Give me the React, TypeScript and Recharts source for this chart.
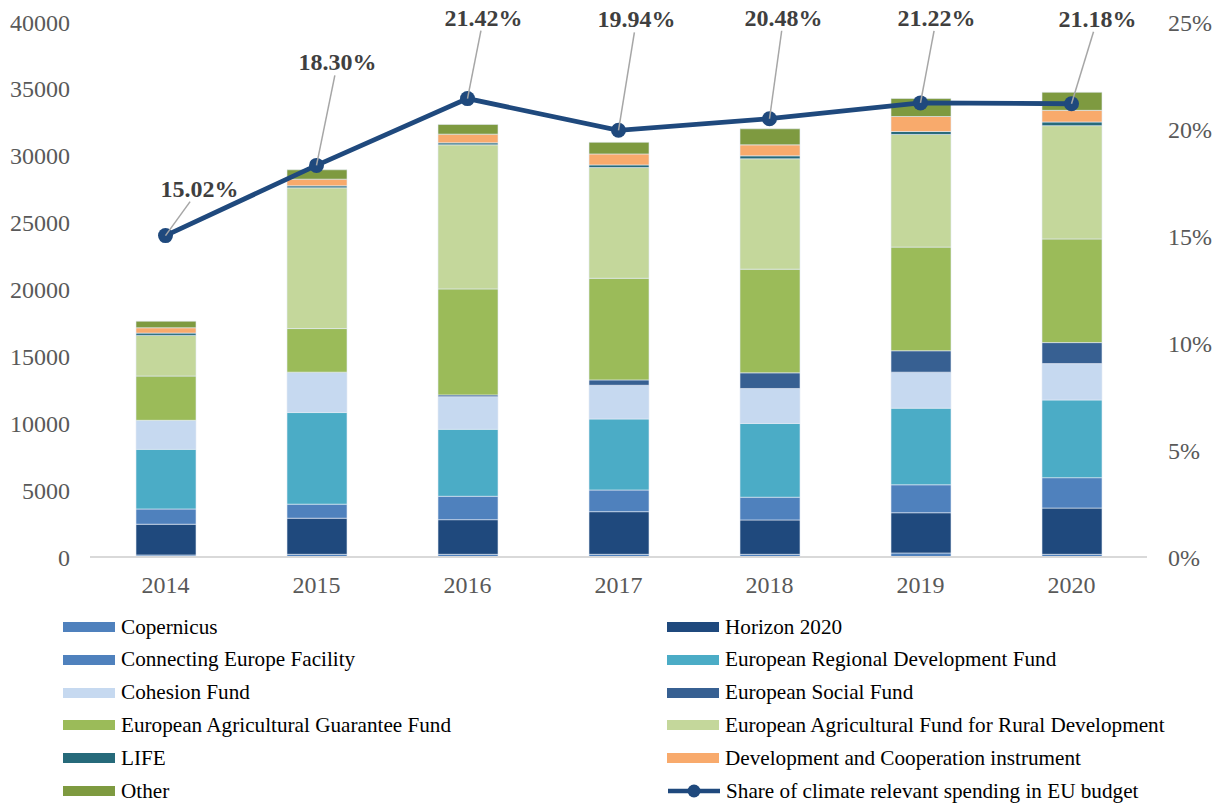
import React from "react"
import { Bar, ComposedChart, Line, XAxis, YAxis, LabelList } from "recharts"

const years = ["2014", "2015", "2016", "2017", "2018", "2019", "2020"]

const copernicus = [150, 200, 200, 200, 200, 300, 200]
const horizon = [2300, 2700, 2590, 3190, 2570, 3010, 3460]
const cef = [1140, 1050, 1750, 1620, 1700, 2090, 2270]
const erdf = [4460, 6850, 5010, 5310, 5510, 5730, 5810]
const cohesion = [2170, 3020, 2440, 2520, 2620, 2690, 2720]
const esf = [0, 0, 130, 400, 1170, 1600, 1570]
const eagf = [3310, 3260, 7925, 7600, 7750, 7750, 7750]
const eafrd = [3040, 10520, 10770, 8275, 8250, 8420, 8470]
const life = [170, 150, 150, 200, 225, 225, 275]
const dci = [400, 500, 650, 820, 820, 1120, 870]
const other = [490, 700, 725, 870, 1200, 1350, 1350]
const share = [15.02, 18.3, 21.42, 19.94, 20.48, 21.22, 21.18]

const leftTicks = [0, 5000, 10000, 15000, 20000, 25000, 30000, 35000, 40000]
const rightTicks = [0, 5, 10, 15, 20, 25]

const series = [
  { key: "copernicus", name: "Copernicus", values: copernicus, color: "#4f81bd" },
  { key: "horizon", name: "Horizon 2020", values: horizon, color: "#1f497d" },
  { key: "cef", name: "Connecting Europe Facility", values: cef, color: "#4f81bd" },
  { key: "erdf", name: "European Regional Development Fund", values: erdf, color: "#4bacc6" },
  { key: "cohesion", name: "Cohesion Fund", values: cohesion, color: "#c6d9f0" },
  { key: "esf", name: "European Social Fund", values: esf, color: "#376092" },
  { key: "eagf", name: "European Agricultural Guarantee Fund", values: eagf, color: "#9bbb59" },
  { key: "eafrd", name: "European Agricultural Fund for Rural Development", values: eafrd, color: "#c4d79b" },
  { key: "life", name: "LIFE", values: life, color: "#266a7a" },
  { key: "dci", name: "Development and Cooperation instrument", values: dci, color: "#f8aa6c" },
  { key: "other", name: "Other", values: other, color: "#7e9a40" },
]

const data = years.map((year, i) => {
  const row: Record<string, number | string> = { year, share: share[i] }
  series.forEach((s) => (row[s.key] = s.values[i]))
  return row
})

// label text centre offsets from each point (dx, dy)
const labelOffsets = [
  [34, -47],
  [21, -103],
  [16, -81],
  [18, -111],
  [14, -101],
  [16, -85],
  [26, -85],
]

const FONT = "'Liberation Serif', 'Times New Roman', serif"
const LINE_COLOR = "#1f497d"

function ShareLabel(props: any) {
  const { x, y, value, index } = props
  const [dx, dy] = labelOffsets[index]
  const tx = x + dx
  const ty = y + dy
  const t = (dy + 13) / dy
  return (
    <g>
      <line x1={x} y1={y} x2={x + dx * t} y2={y + dy * t} stroke="#a6a6a6" strokeWidth={1.5} />
      <text x={tx} y={ty + 8} textAnchor="middle" fontFamily={FONT} fontSize={24} fontWeight="bold" fill="#3f3f3f">
        {Number(value).toFixed(2)}%
      </text>
    </g>
  )
}

const legendItems = [
  series[0], series[1],
  series[2], series[3],
  series[4], series[5],
  series[6], series[7],
  series[8], series[9],
  series[10], null,
]

function LegendBlock() {
  return (
    <div style={{ position: "absolute", left: 0, top: 611, width: 1219, fontFamily: FONT, fontSize: 21.2, color: "#000" }}>
      {legendItems.map((item, i) => {
        const col = i % 2
        const row = Math.floor(i / 2)
        const left = col === 0 ? 63 : 667
        return (
          <div key={i} style={{ position: "absolute", left, top: row * 32.8, height: 32, display: "flex", alignItems: "center", whiteSpace: "nowrap" }}>
            {item ? (
              <span style={{ display: "inline-block", width: 52, height: 10, background: item.color, marginRight: 6 }} />
            ) : (
              <svg width={54} height={16} style={{ marginRight: 5 }}>
                <line x1={1} y1={8} x2={53} y2={8} stroke={LINE_COLOR} strokeWidth={4.5} />
                <circle cx={27} cy={8} r={6.5} fill={LINE_COLOR} />
              </svg>
            )}
            <span>{item ? item.name : "Share of climate relevant spending in EU budget"}</span>
          </div>
        )
      })}
    </div>
  )
}

export default function App() {
  const tick = { fill: "#595959", fontSize: 24, fontFamily: FONT }
  return (
    <div style={{ position: "absolute", left: 0, top: 0, width: 1219, height: 805, background: "#fff" }}>
      <ComposedChart width={1219} height={600} data={data} margin={{ top: 22, right: 0, bottom: 0, left: 0 }} barSize={60}>
        <XAxis dataKey="year" height={43} tick={tick} tickLine={false} tickSize={0} tickMargin={19} axisLine={{ stroke: "#d9d9d9", strokeWidth: 2 }} />
        <YAxis yAxisId="left" width={90} domain={[0, 40000]} ticks={leftTicks} tick={tick} tickLine={false} tickSize={0} tickMargin={20} axisLine={false} />
        <YAxis yAxisId="right" orientation="right" width={72} domain={[0, 25]} ticks={rightTicks} tick={tick} tickLine={false} tickSize={0} tickMargin={21} axisLine={false} tickFormatter={(v) => `${v}%`} />
        {series.map((s) => (
          <Bar key={s.key} yAxisId="left" dataKey={s.key} name={s.name} stackId="a" fill={s.color} stroke="#e4ebf5" strokeWidth={0.6} isAnimationActive={false} />
        ))}
        <Line yAxisId="right" dataKey="share" stroke={LINE_COLOR} strokeWidth={4.8} dot={{ r: 7.5, fill: LINE_COLOR, stroke: LINE_COLOR, strokeWidth: 0 }} activeDot={false} isAnimationActive={false}>
          <LabelList dataKey="share" content={ShareLabel} />
        </Line>
      </ComposedChart>
      <LegendBlock />
    </div>
  )
}
